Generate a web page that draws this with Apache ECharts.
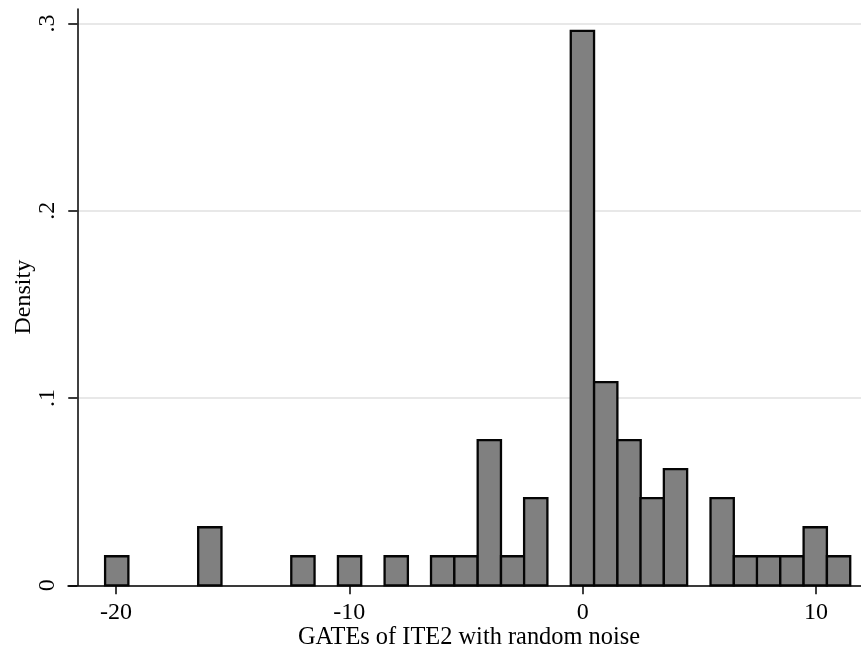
<!DOCTYPE html>
<html>
<head>
<meta charset="utf-8">
<script src="https://cdn.jsdelivr.net/npm/echarts@6/dist/echarts.min.js"></script>
<style>html,body{margin:0;padding:0;background:#fff}#c{width:861px;height:652px}</style>
</head>
<body>
<div id="c"></div>
<script>
// Histogram bins: lower edges, common bin width, densities
const binLower = [-20.47, -16.48, -12.49, -10.49, -8.49, -6.50, -5.50, -4.50, -3.50, -2.51,
                  -0.51, 0.49, 1.49, 2.48, 3.48, 5.48, 6.48, 7.47, 8.47, 9.47, 10.47];
const binWidth = 0.998;
const density = [0.0155, 0.031, 0.0155, 0.0155, 0.0155, 0.0155, 0.0155, 0.0775, 0.0155, 0.0465,
                 0.296, 0.1085, 0.0775, 0.0465, 0.062, 0.0465, 0.0155, 0.0155, 0.0155, 0.031, 0.0155];
const xTicks = [-20, -10, 0, 10];
const yTicks = [0, 0.1, 0.2, 0.3];
const yTickLabels = ['0', '.1', '.2', '.3'];
const xTitle = 'GATEs of ITE2 with random noise';
const yTitle = 'Density';

const data = binLower.map((b, i) => [b, b + binWidth, density[i]]);
const font = 'Liberation Serif';

const chart = echarts.init(document.getElementById('c'), null, {renderer: 'canvas'});
chart.setOption({
  animation: false,
  backgroundColor: '#ffffff',
  grid: {left: 68, right: 0, top: 9, bottom: 66.7, containLabel: false, outerBoundsMode: 'none'},
  xAxis: {
    type: 'value', min: -22.06, max: 11.93,
    axisLine: {show: true, onZero: false, lineStyle: {color: '#000', width: 1.5}},
    axisTick: {show: true, length: 9, lineStyle: {color: '#000', width: 1.5}, customValues: xTicks},
    axisLabel: {show: true, customValues: xTicks, fontFamily: font, fontSize: 24, color: '#000', margin: 15},
    splitLine: {show: false},
    name: xTitle, nameLocation: 'middle', nameGap: 40, nameMoveOverlap: false,
    nameTextStyle: {fontFamily: font, fontSize: 24.4, color: '#000', padding: [0, 0, 0, 9]}
  },
  yAxis: {
    type: 'value', min: 0, max: 0.3077, interval: 0.1, offset: -9.3,
    axisLine: {show: true, onZero: false, lineStyle: {color: '#000', width: 1.5}},
    axisTick: {show: true, length: 9, lineStyle: {color: '#000', width: 1.5}, customValues: yTicks},
    axisLabel: {show: true, customValues: yTicks, rotate: 90, fontFamily: font, fontSize: 24, color: '#000', margin: 18,
      formatter: v => { const i = yTicks.findIndex(t => Math.abs(t - v) < 1e-9); return i >= 0 ? yTickLabels[i] : ''; }},
    splitLine: {show: true, lineStyle: {color: '#e8e8e8', width: 2}},
    name: yTitle, nameLocation: 'middle', nameGap: 42, nameMoveOverlap: false,
    nameTextStyle: {fontFamily: font, fontSize: 24, color: '#000'}
  },
  series: [
    {
      type: 'custom',
      data: data,
      encode: {x: [0, 1], y: 2},
      renderItem: function (params, api) {
        const p0 = api.coord([api.value(0), api.value(2)]);
        const p1 = api.coord([api.value(1), 0]);
        return {
          type: 'rect',
          shape: {x: p0[0], y: p0[1], width: p1[0] - p0[0], height: p1[1] - p0[1]},
          style: {fill: '#808080', stroke: '#050505', lineWidth: 2.3}
        };
      }
    }
  ]
});
</script>
</body>
</html>
